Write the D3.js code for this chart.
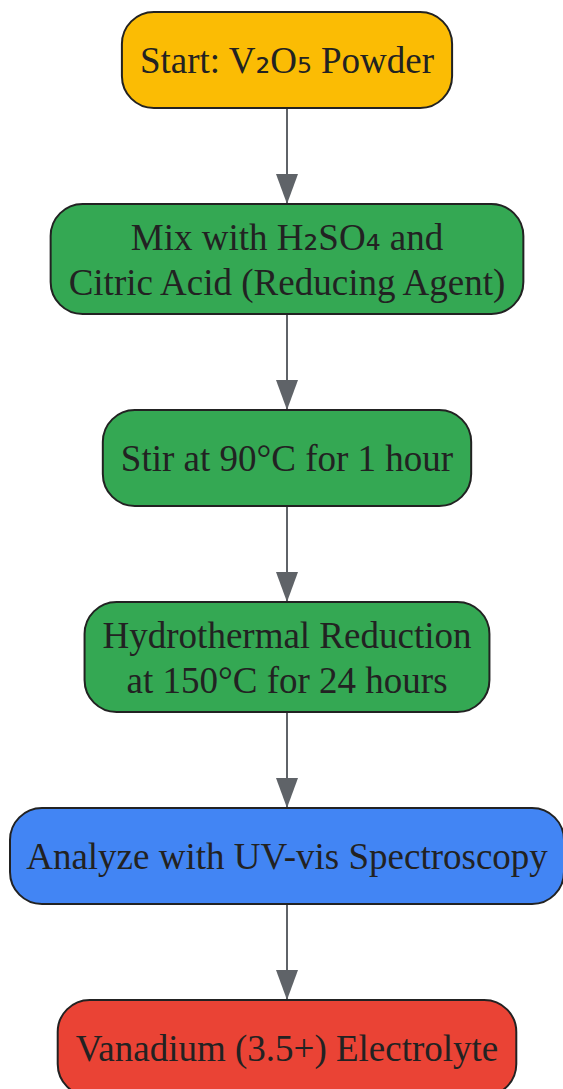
<!DOCTYPE html>
<html>
<head>
<meta charset="utf-8">
<script src="https://cdn.jsdelivr.net/npm/d3@7"></script>
<style>
  html, body { margin: 0; padding: 0; background: #fff; }
  svg { display: block; }
</style>
</head>
<body>
<svg id="chart"></svg>
<script>
const width = 563;
const height = 1089;

// flow steps, top to bottom
const stepLabels = [
  ["Start: V\u2082O\u2085 Powder"],
  ["Mix with H\u2082SO\u2084 and", "Citric Acid (Reducing Agent)"],
  ["Stir at 90\u00b0C for 1 hour"],
  ["Hydrothermal Reduction", "at 150\u00b0C for 24 hours"],
  ["Analyze with UV-vis Spectroscopy"],
  ["Vanadium (3.5+) Electrolyte"]
];
const stepKinds = ["start", "process", "process", "process", "analysis", "end"];
const kindNames = ["start", "process", "analysis", "end"];
const kindColors = ["#fbbc04", "#34a853", "#4285f4", "#ea4335"];

const fontSize = 37;
const serif = "'Liberation Serif', 'Times New Roman', serif";
const subFont = "'DejaVu Sans', sans-serif";
const lineH = 45;
const padX = 18;
const gap = 96;
const top0 = 12;
const cx = 287;
const maxW = 554;

const color = d3.scaleOrdinal().domain(kindNames).range(kindColors);

// split a line into runs so the subscript digits get their own font
function runs(line) {
  return line.split(/([\u2080-\u2089]+)/).filter((s) => s.length)
    .map((s) => ({ s, sub: /[\u2080-\u2089]/.test(s) }));
}

const svg = d3
  .select("#chart")
  .attr("width", width)
  .attr("height", height)
  .attr("viewBox", `0 0 ${width} ${height}`);

// arrow marker
svg
  .append("defs")
  .append("marker")
  .attr("id", "arrow")
  .attr("viewBox", "0 0 30 22")
  .attr("refX", 30)
  .attr("refY", 11)
  .attr("markerWidth", 30)
  .attr("markerHeight", 22)
  .attr("markerUnits", "userSpaceOnUse")
  .attr("orient", "auto")
  .append("path")
  .attr("d", "M0,0 L30,11 L0,22 Z")
  .attr("fill", "#5f6368");

function fillLine(sel) {
  sel
    .selectAll("tspan")
    .data((d) => runs(d.l !== undefined ? d.l : d))
    .join("tspan")
    .style("font-family", (r) => (r.sub ? subFont : serif))
    .text((r) => r.s);
}

// measure text to size each box
const measure = svg.append("text")
  .style("font-family", serif)
  .style("font-size", fontSize + "px");

let y = top0;
const nodes = stepLabels.map((lines, i) => {
  const w = d3.max(lines, (l) => {
    measure.datum(l).call(fillLine);
    return measure.node().getComputedTextLength();
  });
  const h = lines.length == 1 ? 96 : 110;
  const n = { lines, kind: stepKinds[i], w: Math.min(w + padX * 2, maxW), h, y0: y };
  y += h + gap;
  return n;
});
measure.remove();

const links = d3.pairs(nodes);

// edges
svg
  .append("g")
  .selectAll("line")
  .data(links)
  .join("line")
  .attr("x1", cx)
  .attr("x2", cx)
  .attr("y1", (d) => d[0].y0 + d[0].h)
  .attr("y2", (d) => d[1].y0)
  .attr("stroke", "#5f6368")
  .attr("stroke-width", 2)
  .attr("marker-end", "url(#arrow)");

// boxes
const node = svg
  .append("g")
  .selectAll("g")
  .data(nodes)
  .join("g")
  .attr("transform", (d) => `translate(${cx}, ${d.y0 + d.h / 2})`);

node
  .append("rect")
  .attr("x", (d) => -d.w / 2)
  .attr("y", (d) => -d.h / 2)
  .attr("width", (d) => d.w)
  .attr("height", (d) => d.h)
  .attr("rx", 32)
  .attr("ry", 32)
  .attr("fill", (d) => color(d.kind))
  .attr("stroke", "#222")
  .attr("stroke-width", 2);

node
  .append("g")
  .selectAll("text")
  .data((d) => d.lines.map((l, i) => ({ l, i, n: d.lines.length })))
  .join("text")
  .style("font-family", serif)
  .style("font-size", fontSize + "px")
  .attr("fill", "#222")
  .attr("text-anchor", "middle")
  .attr("x", 0)
  .attr("y", (d) => (d.i - (d.n - 1) / 2) * lineH)
  .attr("dy", "0.36em")
  .call(fillLine);
</script>
</body>
</html>
